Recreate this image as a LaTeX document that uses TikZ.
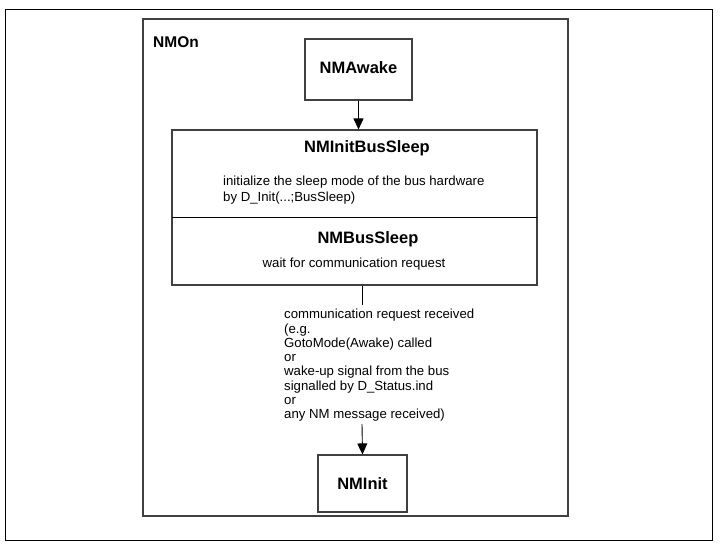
\documentclass[tikz,border=0pt]{standalone}
\usepackage{fontspec}
\setmainfont{Liberation Sans}
\usetikzlibrary{arrows.meta}
\begin{document}
\begin{tikzpicture}[x=1pt,y=-1pt,
  frame/.style={draw=black!75,line width=1.1pt},
  statebox/.style={frame,inner sep=0pt},
  title/.style={font=\fontsize{16.5}{18}\selectfont\bfseries,inner sep=0pt},
  body/.style={font=\fontsize{13.2}{14.3}\selectfont,inner sep=0pt,align=left},
  conn/.style={draw=black,line width=0.9pt},
  arr/.style={conn,-{Triangle[width=10pt,length=11pt]}}]
\useasboundingbox (0,0) rectangle (720,545);
% outer frame
\draw[black,line width=0.8pt] (5,9) rectangle (712,540);
% NMOn frame
\node[statebox,minimum width=425pt,minimum height=497pt] (nmon) at (355.5,267.5) {};
\node[title,anchor=base west,font=\fontsize{15.5}{17}\selectfont\bfseries] (nmonlabel) at (153,48) {NMOn};
% NMAwake
\node[statebox,minimum width=107pt,minimum height=61pt] (awake) at (358.5,69.5) {};
\node[title,anchor=base] (awaket) at (358.5,74) {NMAwake};
% big box
\node[statebox,minimum width=365pt,minimum height=155pt] (big) at (354.5,207.5) {};
\coordinate (divl) at (172,217);
\coordinate (divr) at (537,217);
\draw[conn] (divl) -- (divr);
\node[title,anchor=base] (ibs) at (367,153) {NMInitBusSleep};
\node[body,anchor=base west] (ibsa) at (223,186) {initialize the sleep mode of the bus hardware};
\node[body,anchor=base west] (ibsb) at (223,202) {by D\_Init(...;BusSleep)};
\node[title,anchor=base] (bs) at (368,244) {NMBusSleep};
\node[body,anchor=base] (bst) at (354,268) {wait for communication request};
% NMInit
\node[statebox,minimum width=89pt,minimum height=57pt] (init) at (362.5,483.5) {};
\node[title,anchor=base] (initt) at (362.5,489) {NMInit};
% transition label
\node[body,anchor=north west] (lab) at (284,309) {communication request received\\(e.g.\\GotoMode(Awake) called\\or\\wake-up signal from the bus\\signalled by D\_Status.ind\\or\\any NM message received)};
\coordinate (lt) at (362,305);
\coordinate (lb) at (362,424);
% connectors
\draw[arr] (awake.south) -- (awake.south |- big.north);
\draw[conn] (lt |- big.south) -- (lt);
\draw[arr] (lb) -- (init.north);
\end{tikzpicture}
\end{document}
